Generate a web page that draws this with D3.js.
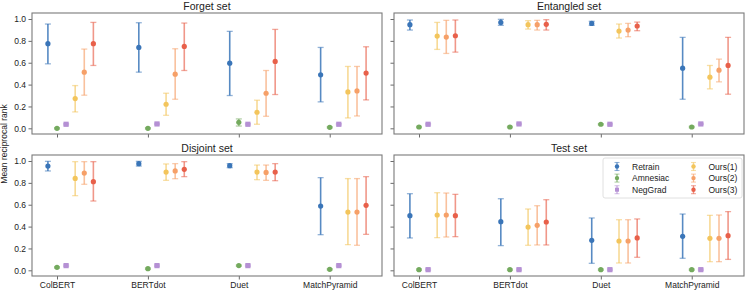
<!DOCTYPE html>
<html>
<head>
<meta charset="utf-8">
<script src="https://cdn.jsdelivr.net/npm/d3@7"></script>
<style>
  body { margin: 0; background: #fff; }
  text { font-family: "Liberation Sans", Arial, sans-serif; fill: #222; }
</style>
</head>
<body>
<svg id="chart" width="748" height="291"></svg>
<script>
// categories + series
var models = ["ColBERT", "BERTdot", "Duet", "MatchPyramid"];
var methods = ["Retrain", "Amnesiac", "NegGrad", "Ours(1)", "Ours(2)", "Ours(3)"];
var colors = ["#3a75b8", "#74aa5e", "#b590d4", "#f3c55c", "#f6a068", "#e8604a"];
var yTicks = [0, 0.2, 0.4, 0.6, 0.8, 1.0];

// rows = methods, cols = models
var forgetMean = [[0.774, 0.740, 0.596, 0.489], [0.0, 0.0, 0.055, 0.009], [0.037, 0.040, 0.037, 0.037],
  [0.272, 0.220, 0.147, 0.333], [0.514, 0.495, 0.321, 0.342], [0.774, 0.749, 0.612, 0.505]];
var forgetLow = [[0.590, 0.514, 0.300, 0.242], [-0.006, -0.006, 0.021, 0.003], [0.031, 0.034, 0.031, 0.031],
  [0.150, 0.119, 0.037, 0.095], [0.303, 0.266, 0.110, 0.113], [0.575, 0.529, 0.309, 0.260]];
var forgetHigh = [[0.954, 0.966, 0.887, 0.740], [0.006, 0.006, 0.086, 0.015], [0.043, 0.046, 0.043, 0.043],
  [0.391, 0.321, 0.257, 0.566], [0.725, 0.728, 0.529, 0.566], [0.969, 0.963, 0.905, 0.746]];

var entangledMean = [[0.948, 0.969, 0.960, 0.550], [0.012, 0.012, 0.037, 0.012], [0.037, 0.040, 0.037, 0.040],
  [0.844, 0.948, 0.890, 0.468], [0.835, 0.948, 0.899, 0.532], [0.847, 0.951, 0.936, 0.575]];
var entangledLow = [[0.899, 0.942, 0.942, 0.266], [0.006, 0.006, 0.031, 0.006], [0.031, 0.034, 0.031, 0.034],
  [0.722, 0.908, 0.826, 0.361], [0.685, 0.899, 0.838, 0.425], [0.697, 0.899, 0.893, 0.312]];
var entangledHigh = [[0.991, 0.997, 0.979, 0.832], [0.018, 0.018, 0.043, 0.018], [0.043, 0.046, 0.043, 0.046],
  [0.969, 0.985, 0.954, 0.575], [0.988, 0.988, 0.960, 0.633], [0.991, 0.994, 0.972, 0.832]];

var disjointMean = [[0.954, 0.976, 0.957, 0.588], [0.027, 0.015, 0.043, 0.009], [0.043, 0.043, 0.043, 0.043],
  [0.841, 0.899, 0.899, 0.533], [0.890, 0.909, 0.896, 0.533], [0.811, 0.924, 0.899, 0.595]];
var disjointLow = [[0.909, 0.954, 0.939, 0.326], [0.021, 0.009, 0.037, 0.003], [0.037, 0.037, 0.037, 0.037],
  [0.683, 0.823, 0.829, 0.235], [0.787, 0.838, 0.823, 0.229], [0.634, 0.857, 0.820, 0.329]];
var disjointHigh = [[0.997, 0.997, 0.976, 0.848], [0.033, 0.021, 0.049, 0.015], [0.049, 0.049, 0.049, 0.049],
  [0.994, 0.973, 0.963, 0.839], [0.994, 0.976, 0.963, 0.839], [0.994, 0.994, 0.976, 0.857]];

var testMean = [[0.500, 0.445, 0.274, 0.311], [0.006, 0.006, 0.006, 0.006], [0.006, 0.006, 0.006, 0.006],
  [0.506, 0.396, 0.268, 0.293], [0.506, 0.412, 0.268, 0.293], [0.500, 0.442, 0.296, 0.317]];
var testLow = [[0.296, 0.226, 0.064, 0.110], [0.0, 0.0, 0.0, 0.0], [0.0, 0.0, 0.0, 0.0],
  [0.299, 0.229, 0.067, 0.079], [0.305, 0.232, 0.067, 0.079], [0.308, 0.232, 0.119, 0.100]];
var testHigh = [[0.701, 0.655, 0.479, 0.515], [0.012, 0.012, 0.012, 0.012], [0.012, 0.012, 0.012, 0.012],
  [0.710, 0.561, 0.463, 0.503], [0.707, 0.591, 0.463, 0.506], [0.695, 0.646, 0.470, 0.537]];

var panels = [
  {title: "Forget set", mean: forgetMean, low: forgetLow, high: forgetHigh, x: 32, y: 13, labels: true, xlabels: false},
  {title: "Entangled set", mean: entangledMean, low: entangledLow, high: entangledHigh, x: 394, y: 13, labels: false, xlabels: false},
  {title: "Disjoint set", mean: disjointMean, low: disjointLow, high: disjointHigh, x: 32, y: 155, labels: true, xlabels: true},
  {title: "Test set", mean: testMean, low: testLow, high: testHigh, x: 394, y: 155, labels: false, xlabels: true}
];

var pw = 350, ph = 121;
var svg = d3.select("#chart");
var offsets = [-0.1, 0, 0.1, 0.2, 0.3, 0.4];

var x = d3.scaleLinear().domain([-0.275, 3.575]).range([0, pw]);
var y = d3.scaleLinear().domain([-0.052, 1.055]).range([ph, 0]);

panels.forEach(function(p) {
  var g = svg.append("g").attr("transform", "translate(" + p.x + "," + p.y + ")");

  g.append("text")
    .attr("x", pw / 2).attr("y", -3.5)
    .attr("text-anchor", "middle")
    .style("font-size", "10.5px")
    .text(p.title);

  var yAxis = g.append("g")
    .call(d3.axisLeft(y).tickValues(yTicks).tickSize(3.5).tickPadding(2.5)
      .tickFormat(p.labels ? d3.format(".1f") : ""));
  var xAxis = g.append("g").attr("transform", "translate(0," + ph + ")")
    .call(d3.axisBottom(x).tickValues(d3.range(models.length)).tickSize(3.5).tickPadding(2)
      .tickFormat(function(d) { return p.xlabels ? models[d] : ""; }));
  [yAxis, xAxis].forEach(function(a) {
    a.select(".domain").remove();
    a.selectAll(".tick line").attr("stroke", "#444").attr("stroke-width", 0.8);
    a.selectAll(".tick text").style("font-size", "8.5px").attr("fill", "#1a1a1a");
  });

  methods.forEach(function(m, i) {
    var s = g.append("g");
    models.forEach(function(mod, j) {
      var cx = x(j + offsets[i]);
      s.append("line")
        .attr("x1", cx).attr("x2", cx)
        .attr("y1", y(p.low[i][j])).attr("y2", y(p.high[i][j]))
        .attr("stroke", colors[i]).attr("stroke-width", 1.6).attr("stroke-opacity", i == 0 ? 0.85 : 0.65);
      [p.low[i][j], p.high[i][j]].forEach(function(v) {
        s.append("line")
          .attr("x1", cx - 3).attr("x2", cx + 3)
          .attr("y1", y(v)).attr("y2", y(v))
          .attr("stroke", colors[i]).attr("stroke-width", 1.3).attr("stroke-opacity", 0.55);
      });
      if (m == "NegGrad") {
        s.append("rect")
          .attr("x", cx - 2.6).attr("y", y(p.mean[i][j]) - 2.6)
          .attr("width", 5.2).attr("height", 5.2)
          .attr("fill", colors[i]);
      } else {
        s.append("circle")
          .attr("cx", cx).attr("cy", y(p.mean[i][j])).attr("r", 2.6)
          .attr("fill", colors[i]);
      }
    });
  });

  g.append("rect")
    .attr("width", pw).attr("height", ph)
    .attr("fill", "none").attr("stroke", "#7a7a7a").attr("stroke-width", 1.1);
});

svg.append("text")
  .attr("transform", "translate(7," + 144 + ") rotate(-90)")
  .attr("text-anchor", "middle")
  .style("font-size", "8.5px")
  .text("Mean reciprocal rank");

// legend in the test panel
var leg = svg.append("g").attr("transform", "translate(603,158)");
leg.append("rect")
  .attr("width", 139).attr("height", 40).attr("rx", 2)
  .attr("fill", "#fff").attr("fill-opacity", 0.85)
  .attr("stroke", "#d8d8d8").attr("stroke-width", 0.8);
methods.forEach(function(m, i) {
  var col = Math.floor(i / 3), row = i % 3;
  var lg = leg.append("g").attr("transform", "translate(" + (14 + col * 76.5) + "," + (8.5 + row * 11.6) + ")");
  lg.append("line").attr("y1", -4).attr("y2", 4)
    .attr("stroke", colors[i]).attr("stroke-width", 1.4).attr("stroke-opacity", 0.7);
  [-4, 4].forEach(function(v) {
    lg.append("line").attr("x1", -2.5).attr("x2", 2.5).attr("y1", v).attr("y2", v)
      .attr("stroke", colors[i]).attr("stroke-width", 1.1).attr("stroke-opacity", 0.55);
  });
  if (m == "NegGrad") {
    lg.append("rect").attr("x", -2).attr("y", -2).attr("width", 4).attr("height", 4).attr("fill", colors[i]);
  } else {
    lg.append("circle").attr("r", 2.2).attr("fill", colors[i]);
  }
  lg.append("text").attr("x", 15).attr("y", 3)
    .style("font-size", "8.5px")
    .text(m);
});
</script>
</body>
</html>
